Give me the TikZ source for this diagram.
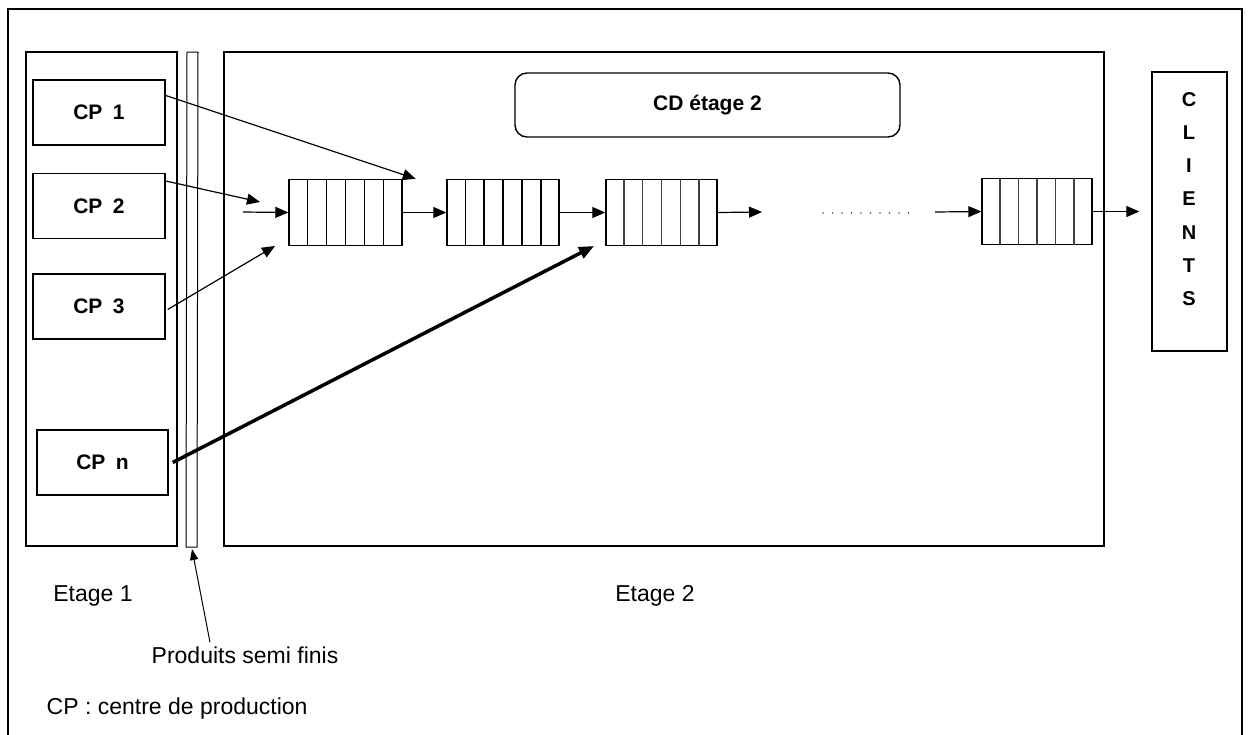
\documentclass[tikz,border=0pt]{standalone}
\usepackage{fontspec}
\setmainfont{Liberation Sans}
\usetikzlibrary{arrows.meta,calc}
\tikzset{schema/.style={x=1pt,y=-1pt,line width=1.4pt,>={Triangle[length=13pt,width=11pt]}},
  cpbox/.style={draw,inner sep=0pt,minimum width=132pt,minimum height=65pt,font=\fontsize{21}{25}\selectfont\bfseries},
  fileatt/.style={draw,inner sep=0pt,minimum width=112pt,minimum height=66pt},
  legende/.style={font=\fontsize{23}{27}\selectfont},
  fleche/.style={->,line width=1.2pt}}

\begin{document}
\begin{tikzpicture}[schema]
\useasboundingbox (0,0) rectangle (1248,734);

% cadre + etages
\draw (8,760) -- (8,9) -- (1242,9) -- (1242,760);
\draw (26,52) rectangle (177,546);
\draw (224,52) rectangle (1104,546);
\draw[line width=1pt] (187,52) -- (198,52) -- (197,547) -- (186,547) -- cycle;
\coordinate (tube) at (192,549);

\node[cpbox] (cp1) at (99,112.5) {CP\enspace 1};
\node[cpbox] (cp2) at (99,206) {CP\enspace 2};
\node[cpbox] (cp3) at (99,306.5) {CP\enspace 3};
\node[cpbox,minimum width=131pt] (cpn) at (102.5,462.5) {CP\enspace n};

\node[draw,rounded corners=12pt,minimum width=385pt,minimum height=64pt,
      font=\fontsize{21}{25}\selectfont\bfseries] (cd) at (707.5,105) {CD étage 2};
\node[draw,minimum width=75pt,minimum height=279pt] (clients) at (1189.5,211.5) {};
\node[align=center,font=\fontsize{20}{33.2}\selectfont\bfseries] (clientstxt) at (1189,199) {C\\L\\I\\E\\N\\T\\S};

% files d'attente
\node[fileatt,minimum width=113pt] (q1) at (345.5,212.5) {};
\node[fileatt] (q2) at (503,212.5) {};
\node[fileatt,minimum width=111pt] (q3) at (661.5,212.5) {};
\node[fileatt,minimum width=110pt] (q4) at (1037,211.5) {};
\foreach \q/\c in {q1/black,q2/black,q3/darkgray,q4/darkgray}
  \foreach \i in {1,...,5}
    \draw[\c] ($(\q.north west)!\i/6!(\q.north east)$) -- ($(\q.south west)!\i/6!(\q.south east)$);

\coordinate (in1) at (243,212);
\coordinate (tip2) at (260,202);
\coordinate (tip3) at (275,246);
\coordinate (tipn) at (594,246);
\coordinate (out3) at (762,212);
\coordinate (in4) at (935,212);

\draw[fleche] (in1) -- (q1.west);
\draw[fleche] (q1.east) -- (q2.west);
\draw[fleche] (q2.east) -- (q3.west);
\draw[fleche] (q3.east) -- (out3);
\draw[line width=1.6pt,black!70,line cap=round,dash pattern=on 0pt off 9.5pt] (823,213) -- (918,213);
\draw[fleche] (in4) -- (q4.west);
\draw[fleche,shorten >=12pt] (q4.east) -- (clients.west |- q4.east);

\draw[fleche] ([yshift=17pt]cp1.east) -- ([xshift=13pt]q1.north east);
\draw[fleche] ([yshift=25pt]cp2.east) -- (tip2);
\draw[fleche] ([xshift=2pt,yshift=-3pt]cp3.east) -- (tip3);
\draw[->,line width=3.5pt,>={Triangle[length=15pt,width=12pt]}] ([xshift=4pt]cpn.east) -- (tipn);

% legendes
\node[legende,anchor=base] (et1) at (93,601) {Etage 1};
\node[legende,anchor=base] (et2) at (655,601) {Etage 2};
\node[legende,anchor=base] (psf) at (245,663) {Produits semi finis};
\draw[->,line width=1pt,>={Triangle[length=11pt,width=8pt]}] ([xshift=-35pt]psf.north) -- (tube);
\node[legende,anchor=base west,inner sep=0pt] (cp) at (46,714) {CP : centre de production};
\end{tikzpicture}
\end{document}
